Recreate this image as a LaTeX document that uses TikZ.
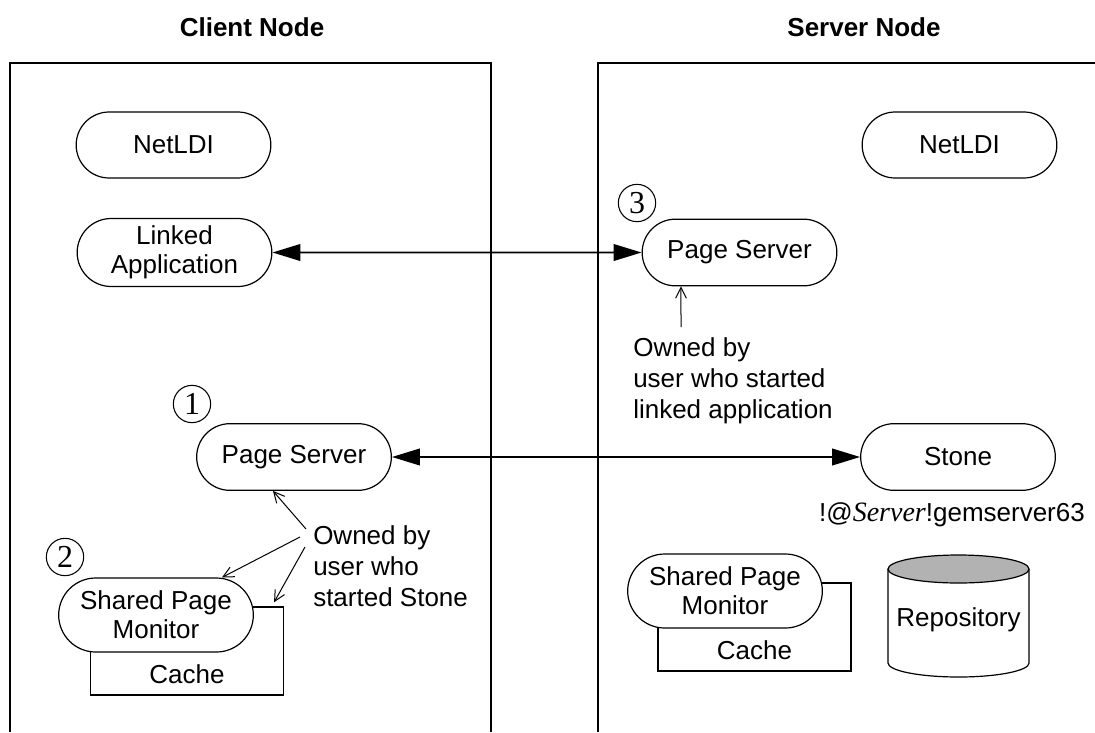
\documentclass[tikz,border=0pt]{standalone}
\usepackage{fontspec}
\setmainfont{Liberation Sans}
\newfontfamily\stepfont{Liberation Serif}
\usepackage{tikz}
\usetikzlibrary{arrows.meta,shapes.misc,positioning}
\tikzset{
	gem diagram/.style={
		x=0.75pt, y=-0.75pt,
		font=\fontsize{19.5}{21.5}\selectfont},
	proc/.style={rounded rectangle, draw, fill=white, line width=0.9pt,
		minimum width=146pt, minimum height=50pt, inner sep=0pt, align=center},
	proc tall/.style={proc, minimum height=55.5pt},
	cachebox/.style={draw, line width=1.1pt, minimum width=144.5pt,
		minimum height=66pt, inner sep=0pt},
	stepno/.style={circle, draw, line width=0.8pt, minimum size=28pt,
		inner sep=0pt, font=\stepfont\fontsize{24}{26}\selectfont},
	hostframe/.style={line width=1.1pt},
	hosttitle/.style={font=\bfseries\fontsize{19.5}{22}\selectfont},
	link/.style={{Triangle[length=21pt,width=12.5pt]}-{Triangle[length=21pt,width=12.5pt]},
		line width=1.4pt},
	owner/.style={-{Straight Barb[length=8pt,width=8pt]}, line width=0.75pt},
	ownernote/.style={align=left, inner sep=0pt, anchor=north west,
		font=\fontsize{19.5}{23.5}\selectfont}
}

\begin{document}
\begin{tikzpicture}[gem diagram]
	\useasboundingbox (0,0) rectangle (1095,732);
	\node[hosttitle] (titleC) at (252,27) {Client Node};
	\node[hosttitle] (titleS) at (864,27) {Server Node};
	\draw[hostframe] (10,732) -- (10,63) -- (491,63) -- (491,732);
	\draw[hostframe] (598,732) -- (598,63) -- (1095,63);
	\node[cachebox] (cacheC) at (187,651) {};
	\node[cachebox] (cacheS) at (754.5,627) {};
	\node (cacheCtext) at ([yshift=16.5pt]cacheC.south) {Cache};
	\node (cacheStext) at ([yshift=16pt]cacheS.south) {Cache};
	\node[proc, minimum height=49.5pt] (netC) at (173.5,145) {NetLDI};
	\node[proc, minimum height=51pt] (appC) at (174.5,252.5) {Linked\\Application};
	\node[proc] (pageC) at (294,457) {Page Server};
	\node[proc tall] (spmC) at (156,615) {Shared Page\\Monitor};
	\node[proc, minimum height=49.5pt] (netS) at (959.5,145) {NetLDI};
	\node[proc] (pageS) at (739.5,252.5) {Page Server};
	\node[proc] (stone) at (958,457) {Stone};
	\node[proc tall] (spmS) at (725,591) {Shared Page\\Monitor};
	\node[stepno] (step1) at (192,404) {1};
	\node[stepno] (step2) at (65,557) {2};
	\node[stepno] (step3) at (637,203) {3};
	\node (stoneid) at (952,515) {!@{\stepfont\itshape\fontsize{21}{24}\selectfont Server}!gemserver63};
	\draw[line width=0.9pt, fill=white] (888,569) -- (888,663)
		arc[start angle=180, end angle=360, x radius=52.9pt, y radius=10.5pt] -- (1029,569);
	\draw[line width=0.9pt, fill=gray!60] (958.5,569) ellipse [x radius=52.9pt, y radius=10.5pt];
	\node (repo) at (958.5,620) {Repository};
	\draw[link] (appC) -- (pageS);
	\draw[link] (pageC) -- (stone);
	\node[ownernote] (noteC) at (313,525) {Owned by\\user who\\started Stone};
	\node[ownernote] (noteS) at (633,337) {Owned by\\user who started\\linked application};
	\coordinate (ownC1) at (306,529);
	\coordinate (ownC2) at (300,537);
	\coordinate (ownC3) at (305,547);
	\coordinate (ownS) at (681,327);
	\draw[owner] (ownC1) -- ([xshift=-15.75pt]pageC.south);
	\draw[owner] (ownC2) -- ([xshift=49.5pt]spmC.north);
	\draw[owner] (ownC3) -- ([xshift=-7.5pt,yshift=3pt]cacheC.north east);
	\draw[owner] (ownS) -- ([xshift=-43.9pt]pageS.south);
\end{tikzpicture}
\end{document}
